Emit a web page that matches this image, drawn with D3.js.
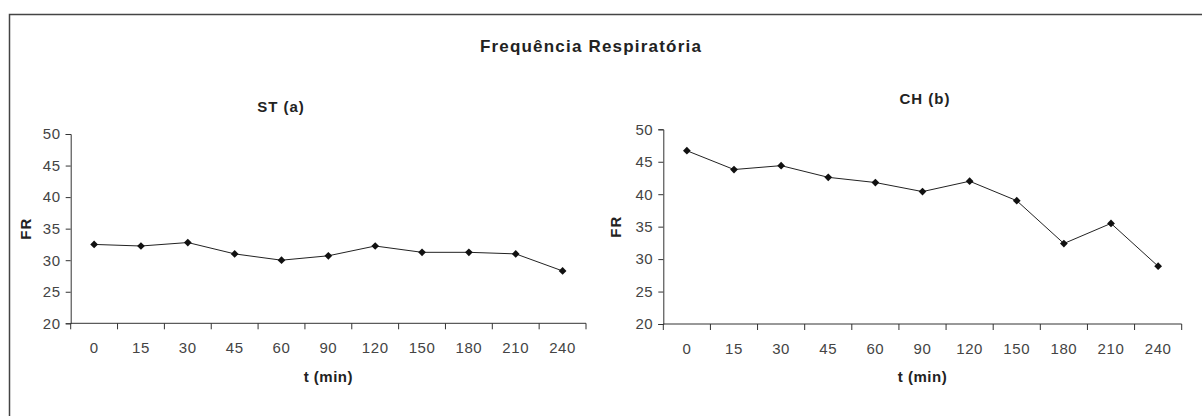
<!DOCTYPE html>
<html>
<head>
<meta charset="utf-8">
<script src="https://cdn.jsdelivr.net/npm/d3@7"></script>
<style>
  body { margin: 0; background: #fff; }
  text { font-family: "Liberation Sans", Arial, sans-serif; }
</style>
</head>
<body>
<div id="chart"></div>
<script>
var W = 1202, H = 416;

var times = ["0", "15", "30", "45", "60", "90", "120", "150", "180", "210", "240"];
var stValues = [32.5, 32.25, 32.8, 31.0, 30.0, 30.7, 32.25, 31.25, 31.25, 31.0, 28.3];
var chValues = [46.7, 43.8, 44.4, 42.6, 41.8, 40.4, 42.0, 39.0, 32.4, 35.5, 28.9];
var yTicks = [20, 25, 30, 35, 40, 45, 50];

var svg = d3.select("#chart").append("svg")
    .attr("width", W).attr("height", H);

// outer frame (runs off the right and bottom of the picture)
svg.append("rect")
    .attr("x", 9.5).attr("y", 14.5)
    .attr("width", W).attr("height", H)
    .attr("fill", "none").attr("stroke", "#444").attr("stroke-width", 1.5);

svg.append("text")
    .attr("x", 591).attr("y", 52)
    .attr("text-anchor", "middle")
    .style("font-size", "17px").style("font-weight", "bold")
    .style("letter-spacing", "1.2px")
    .attr("fill", "#222")
    .text("Frequência Respiratória");

var panels = [
  {title: "ST (a)", values: stValues, x0: 70.7, x1: 586, yTop: 134, yBot: 323.3, titleX: 281, titleY: 112, frX: 26},
  {title: "CH (b)", values: chValues, x0: 663.3, x1: 1181.7, yTop: 129.3, yBot: 324, titleX: 925, titleY: 104, frX: 616}
];

panels.forEach(function(p) {
  var x = d3.scaleBand().domain(times).range([p.x0, p.x1]);
  var y = d3.scaleLinear().domain([20, 50]).range([p.yBot, p.yTop]);
  var cx = (p.x0 + p.x1) / 2;

  var g = svg.append("g");

  // y axis
  var ya = g.append("g")
      .attr("transform", "translate(" + p.x0 + ",0)")
      .call(d3.axisLeft(y).tickValues(yTicks).tickSize(5).tickPadding(5));
  ya.select(".domain").attr("stroke", "#333");
  ya.selectAll(".tick line").attr("stroke", "#333");
  ya.selectAll("text").attr("fill", "#444").style("font-size", "15px")
      .style("letter-spacing", "0.6px")
      .style("font-family", "'Liberation Sans', Arial, sans-serif");

  // x axis: ticks sit on band edges, labels at band centres
  var xa = g.append("g")
      .attr("transform", "translate(0," + p.yBot + ")");
  xa.append("line")
      .attr("x1", p.x0).attr("x2", p.x1)
      .attr("stroke", "#333");
  var edges = times.map(function(t) { return x(t); }).concat([p.x1]);
  xa.selectAll(".edge").data(edges).enter().append("line")
      .attr("x1", function(d) { return d; }).attr("x2", function(d) { return d; })
      .attr("y1", 0).attr("y2", 6)
      .attr("stroke", "#333");
  xa.selectAll(".lab").data(times).enter().append("text")
      .attr("x", function(d) { return x(d) + x.bandwidth() / 2; })
      .attr("y", 30)
      .attr("text-anchor", "middle")
      .attr("fill", "#444")
      .style("font-size", "15px")
      .style("letter-spacing", "0.6px")
      .text(function(d) { return d; });

  var line = d3.line()
      .x(function(d, i) { return x(times[i]) + x.bandwidth() / 2; })
      .y(function(d) { return y(d); });

  g.append("path")
      .datum(p.values)
      .attr("d", line)
      .attr("fill", "none")
      .attr("stroke", "#222")
      .attr("stroke-width", 1);

  g.selectAll(".pt").data(p.values).enter().append("path")
      .attr("d", d3.symbol().type(d3.symbolSquare).size(30))
      .attr("transform", function(d, i) {
        return "translate(" + (x(times[i]) + x.bandwidth() / 2) + "," + y(d) + ") rotate(45)";
      })
      .attr("fill", "#111");

  g.append("text")
      .attr("x", p.titleX).attr("y", p.titleY)
      .attr("text-anchor", "middle")
      .style("font-size", "15px").style("font-weight", "bold")
      .style("letter-spacing", "1px")
      .attr("fill", "#222")
      .text(p.title);

  g.append("text")
      .attr("transform", "translate(" + (p.frX + 5) + "," + ((p.yTop + p.yBot) / 2) + ") rotate(-90)")
      .attr("text-anchor", "middle")
      .style("font-size", "15px").style("font-weight", "bold")
      .style("letter-spacing", "1px")
      .attr("fill", "#222")
      .text("FR");

  g.append("text")
      .attr("x", cx).attr("y", 382)
      .attr("text-anchor", "middle")
      .style("font-size", "15px").style("font-weight", "bold")
      .style("letter-spacing", "0.5px")
      .attr("fill", "#222")
      .text("t (min)");
});
</script>
</body>
</html>
